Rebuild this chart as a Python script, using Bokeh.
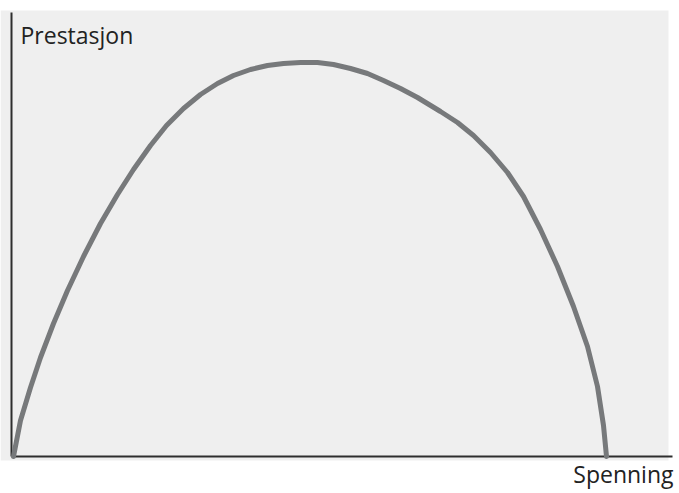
from bokeh.plotting import figure
from bokeh.models import Range1d, Label, BoxAnnotation
from bokeh.embed import file_html
from bokeh.resources import INLINE

# Inverted-U curve: Spenning (arousal) vs Prestasjon (performance), arbitrary units
spenning = [2, 9, 19, 29, 42, 56, 72, 89, 106, 122, 139, 155, 172, 189, 206, 222, 239, 256,
            272, 289, 306, 322, 339, 356, 372, 389, 406, 429, 446, 462, 479, 496, 512,
            529, 546, 562, 576, 586, 592, 595]
prestasjon = [0, 36, 69, 99, 133, 166, 200, 233, 262, 287, 311, 331, 348, 362, 373, 381, 387, 391,
              393, 394, 394, 392, 388, 383, 376, 368, 359, 345, 334, 321, 304, 284, 260,
              227, 190, 150, 110, 70, 31, 0]

x_label = "Spenning"
y_label = "Prestasjon"

W, H = 679, 493
p = figure(width=W, height=H, output_backend="svg", toolbar_location=None,
           x_axis_location=None, y_axis_location=None,
           x_range=Range1d(-11, 668), y_range=Range1d(-37, 456),
           min_border=0, min_border_left=0, min_border_right=0,
           min_border_top=0, min_border_bottom=0)
p.xgrid.visible = False
p.ygrid.visible = False
p.outline_line_color = None
p.background_fill_color = "white"
p.border_fill_color = "white"

# light grey scanned page area
p.add_layout(BoxAnnotation(left=-11, right=657, bottom=-4, top=446,
                           fill_color="#efefef", fill_alpha=1.0, line_color=None, level="underlay"))

x_max = 661
y_max = 444
# axes
p.segment(x0=[0, 0], y0=[0, 0], x1=[0, x_max], y1=[y_max, 0],
          line_color="#2e2e2e", line_width=2)

# curve
p.line(spenning, prestasjon, line_color="#77797b", line_width=5,
       line_join="round", line_cap="round")

p.add_layout(Label(x=9, y=422, text=y_label, text_font="Open Sans",
                   text_font_size="23px", text_color="#222222",
                   text_baseline="alphabetic", text_align="left"))
p.add_layout(Label(x=662, y=-17, text=x_label, text_font="Open Sans",
                   text_font_size="23px", text_color="#222222",
                   text_baseline="alphabetic", text_align="right"))

open("out.html", "w").write(file_html(p, INLINE))
